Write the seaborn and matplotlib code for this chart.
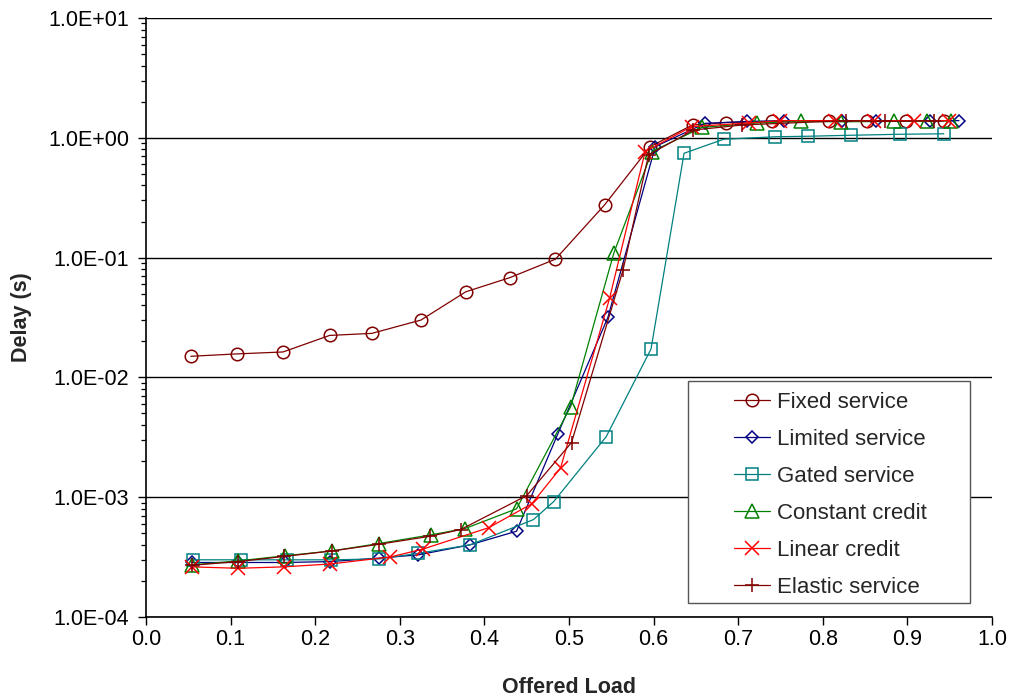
import numpy as np
import pandas as pd
import matplotlib
matplotlib.use("Agg")
import matplotlib.pyplot as plt
import matplotlib.ticker as mticker
from matplotlib.patches import Rectangle
import seaborn as sns

# ---------------- data ----------------
fixed_x = [0.053, 0.107, 0.162, 0.217, 0.267, 0.325, 0.378, 0.430, 0.484, 0.542,
           0.596, 0.646, 0.686, 0.740, 0.807, 0.852, 0.898, 0.943]
fixed_y = [0.0150, 0.0157, 0.0163, 0.0224, 0.0233, 0.0301, 0.0518, 0.0680, 0.0970, 0.275,
           0.845, 1.28, 1.34, 1.37, 1.38, 1.38, 1.38, 1.38]

limited_x = [0.054, 0.109, 0.164, 0.218, 0.275, 0.322, 0.383, 0.438, 0.487, 0.546,
             0.602, 0.661, 0.711, 0.754, 0.823, 0.863, 0.927, 0.961]
limited_y = [2.85e-4, 2.85e-4, 2.85e-4, 2.9e-4, 3.1e-4, 3.3e-4, 4.0e-4, 5.2e-4, 3.4e-3, 0.0317,
             0.845, 1.32, 1.37, 1.39, 1.39, 1.39, 1.39, 1.39]

gated_x = [0.055, 0.112, 0.167, 0.219, 0.275, 0.322, 0.383, 0.458, 0.482, 0.544,
           0.597, 0.636, 0.683, 0.744, 0.783, 0.833, 0.891, 0.943]
gated_y = [3.0e-4, 3.0e-4, 3.0e-4, 3.0e-4, 3.05e-4, 3.4e-4, 4.0e-4, 6.5e-4, 9.2e-4, 3.2e-3,
           0.0173, 0.743, 0.973, 1.02, 1.03, 1.05, 1.07, 1.08]

constant_x = [0.054, 0.109, 0.164, 0.220, 0.275, 0.337, 0.377, 0.438, 0.502, 0.553,
              0.598, 0.657, 0.722, 0.774, 0.821, 0.884, 0.923, 0.951]
constant_y = [2.72e-4, 2.94e-4, 3.24e-4, 3.56e-4, 4.1e-4, 4.85e-4, 5.47e-4, 8.0e-4, 5.7e-3, 0.109,
              0.767, 1.22, 1.33, 1.37, 1.36, 1.37, 1.38, 1.39]

linear_x = [0.054, 0.109, 0.163, 0.218, 0.289, 0.328, 0.405, 0.456, 0.490, 0.548,
            0.590, 0.645, 0.713, 0.750, 0.815, 0.860, 0.908, 0.949]
linear_y = [2.62e-4, 2.55e-4, 2.62e-4, 2.77e-4, 3.17e-4, 3.7e-4, 5.56e-4, 8.8e-4, 1.75e-3, 0.0458,
            0.767, 1.24, 1.33, 1.39, 1.39, 1.39, 1.39, 1.39]

elastic_x = [0.054, 0.109, 0.163, 0.220, 0.275, 0.336, 0.372, 0.450, 0.503, 0.564,
             0.594, 0.647, 0.705, 0.827, 0.874, 0.931]
elastic_y = [2.7e-4, 2.9e-4, 3.2e-4, 3.56e-4, 4.04e-4, 4.72e-4, 5.37e-4, 1.03e-3, 2.86e-3, 0.0794,
             0.72, 1.16, 1.28, 1.39, 1.37, 1.39]

series_names = ["Fixed service", "Limited service", "Gated service",
                "Constant credit", "Linear credit", "Elastic service"]
y_ticks = [1e-4, 1e-3, 1e-2, 1e-1, 1e0, 1e1]
x_ticks = [0.0, 0.1, 0.2, 0.3, 0.4, 0.5, 0.6, 0.7, 0.8, 0.9, 1.0]

# ---------------- styling ----------------
sns.set_theme(style="ticks")
plt.rcParams["font.family"] = ["Liberation Sans", "DejaVu Sans"]

colors = ["#800000", "#000080", "#008080", "#008000", "#FF0000", "#800000"]
markers = ["o", "D", "s", "^", "x", "+"]
msizes = [9, 6.5, 9, 9.5, 9.5, 9.5]

xs = [fixed_x, limited_x, gated_x, constant_x, linear_x, elastic_x]
ys = [fixed_y, limited_y, gated_y, constant_y, linear_y, elastic_y]

fig = plt.figure(figsize=(10.11, 7.0), dpi=100)
ax = fig.add_axes([0.1444, 0.1186, 0.8368, 0.8557])

for name, x, y, c, m, ms in zip(series_names, xs, ys, colors, markers, msizes):
    df = pd.DataFrame({"x": x, "y": y})
    sns.lineplot(data=df, x="x", y="y", ax=ax, color=c, marker=m, markersize=ms,
                 markeredgecolor=c, markerfacecolor="none", markeredgewidth=1.1,
                 linewidth=0.9, label=name, estimator=None)

ax.set_yscale("log")
ax.set_ylim(1e-4, 1e1)
ax.set_xlim(0.0, 1.0)
ax.set_yticks(y_ticks)
ax.yaxis.set_major_formatter(mticker.FuncFormatter(lambda v, p: "{:.1E}".format(v)))
ax.yaxis.set_minor_locator(mticker.LogLocator(base=10, subs=np.arange(2, 10)))
ax.yaxis.set_minor_formatter(mticker.NullFormatter())
ax.set_xticks(x_ticks)
ax.xaxis.set_major_formatter(mticker.FormatStrFormatter("%.1f"))

ax.grid(axis="y", which="major", color="black", linewidth=1.0)
ax.set_axisbelow(True)
for s in ["top", "right"]:
    ax.spines[s].set_visible(False)
for s in ["left", "bottom"]:
    ax.spines[s].set_color("black")
    ax.spines[s].set_linewidth(1.2)

ax.tick_params(axis="y", which="major", direction="out", length=6, width=1.0,
               colors="black", labelsize=15.5, pad=6)
ax.tick_params(axis="x", which="major", direction="out", length=6, width=1.0,
               colors="black", labelsize=15.5, pad=3)
ax.tick_params(axis="y", which="minor", direction="out", length=3.5, width=0.9, colors="black")

ax.set_xlabel("Offered Load", fontsize=15.5, fontweight="bold", labelpad=19)
ax.set_ylabel("Delay (s)", fontsize=15.5, fontweight="bold", labelpad=12)

# legend box (drawn as a frame with generous padding, like the original)
frame = Rectangle((0.6407, 0.0234), 0.3333, 0.3706, transform=ax.transAxes,
                  facecolor="white", edgecolor="#555555", linewidth=1.0, zorder=5)
ax.add_patch(frame)
leg = ax.legend(loc="upper left", bbox_to_anchor=(0.695, 0.376), fontsize=16,
                frameon=False, borderpad=0.0, labelspacing=0.72, handlelength=1.62,
                handletextpad=0.3, borderaxespad=0.0)
leg.set_zorder(6)

fig.savefig("out.png", dpi=100)
